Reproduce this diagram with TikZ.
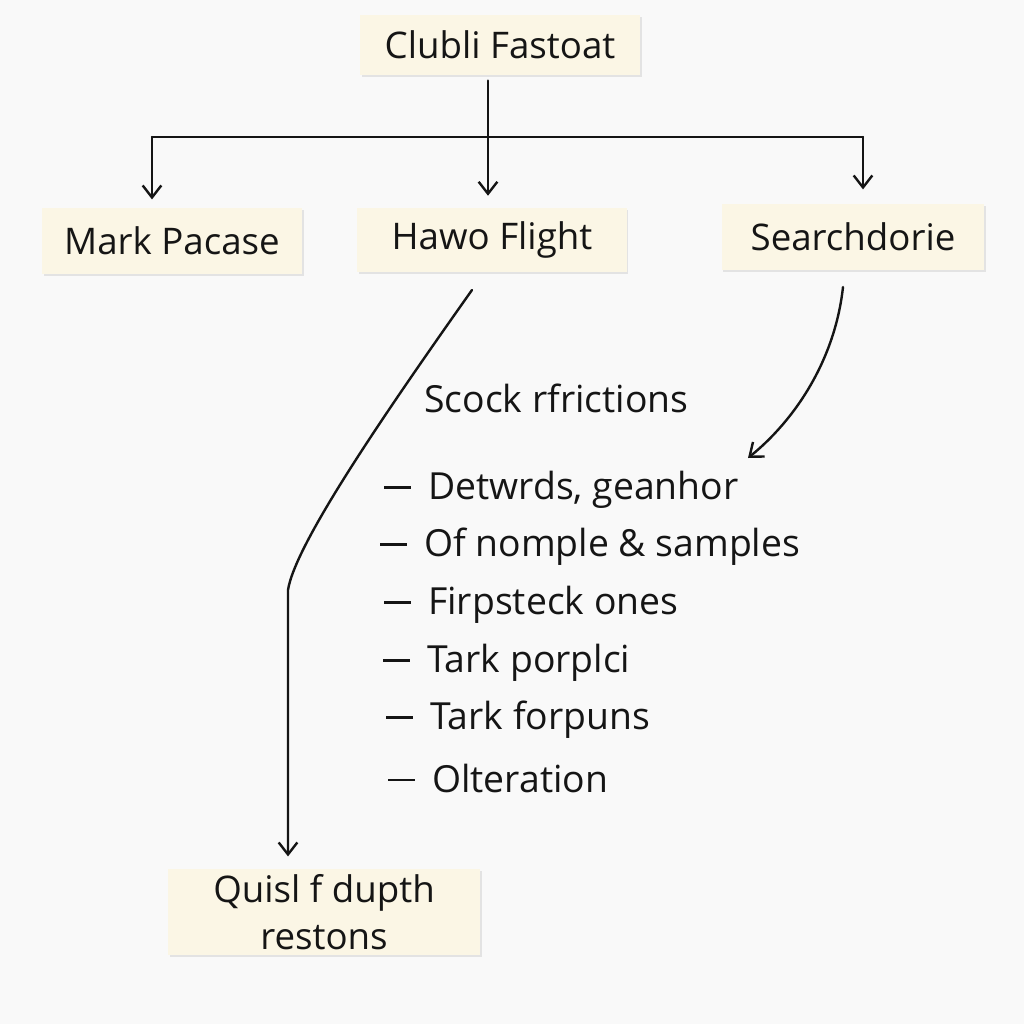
\documentclass[tikz,border=0pt]{standalone}
\usepackage{fontspec}
\setmainfont{Open Sans}
\usetikzlibrary{arrows.meta,shadows}
\definecolor{bg}{HTML}{F9F9F9}
\definecolor{cream}{HTML}{FBF6E5}
\definecolor{ink}{HTML}{151515}
\newcommand{\lidash}{\llap{\rule[0.3em]{20pt}{1.6pt}\hspace{13pt}}}
\begin{document}
\begin{tikzpicture}[x=0.75pt,y=-0.75pt,
  box/.style={fill=cream, draw=none, inner sep=0pt, text=ink,
    font=\fontsize{27.5}{35}\selectfont, align=center,
    drop shadow={opacity=0.18, shadow xshift=1.2pt, shadow yshift=-1.5pt}},
  conn/.style={draw=ink, line width=1.8pt, line cap=round, line join=round},
  tip/.style={-{Straight Barb[length=9pt,width=14pt,line width=1.8pt]}},
  txt/.style={anchor=west, text=ink, font=\fontsize{28}{32}\selectfont, inner sep=0pt}
]
\useasboundingbox[fill=bg] (0,0) rectangle (1024,1024);

% boxes
\node[box, minimum width=210pt, minimum height=45pt] (top) at (500,45) {Clubli Fastoat};
\node[box, minimum width=195pt, minimum height=50pt] (mark) at (172,241) {Mark Pacase};
\node[box, minimum width=202pt, minimum height=48pt] (hawo) at (492,240) {Hawo Flight};
\node[box, minimum width=197pt, minimum height=49pt] (srch) at (853,237) {Searchdorie};
\node[box, minimum width=234pt, minimum height=65pt] (quis) at (324,912) {Quisl f dupth\\restons};

% tree connectors
\coordinate (jm) at (488,137);
\coordinate (jl) at (152,137);
\coordinate (jr) at (863,137);
\draw[conn] (jl) -- (jr);
\draw[conn, tip, shorten >=9pt] ([yshift=-4pt]top.south -| jm) -- (hawo.north -| jm);
\draw[conn, tip, shorten >=6pt] (jl) -- (mark.north -| jl);
\draw[conn, tip, shorten >=11pt] (jr) -- (srch.north -| jr);

% curved connectors
\coordinate (h1) at (472,290);
\coordinate (h2) at (288,590);
\draw[conn, tip, shorten >=9pt] (h1) .. controls (380,420) and (295,545) .. (h2) -- (quis.north -| h2);

\coordinate (s1) at (843,287);
\coordinate (s2) at (748,458);
\draw[conn, tip] (s1) .. controls (835,360) and (795,420) .. (s2);

% text list
\node[txt] (head) at (424,398) {Scock rfrictions};
\node[txt] (l1) at (428,490) {\lidash Detwrds, geanhor};
\node[txt] (l2) at (424,547) {\lidash Of nomple \& samples};
\node[txt] (l3) at (428,605) {\lidash Firpsteck ones};
\node[txt] (l4) at (427,663) {\lidash Tark porplci};
\node[txt] (l5) at (430,720) {\lidash Tark forpuns};
\node[txt] (l6) at (432,778) {\lidash Olteration};
\end{tikzpicture}
\end{document}
